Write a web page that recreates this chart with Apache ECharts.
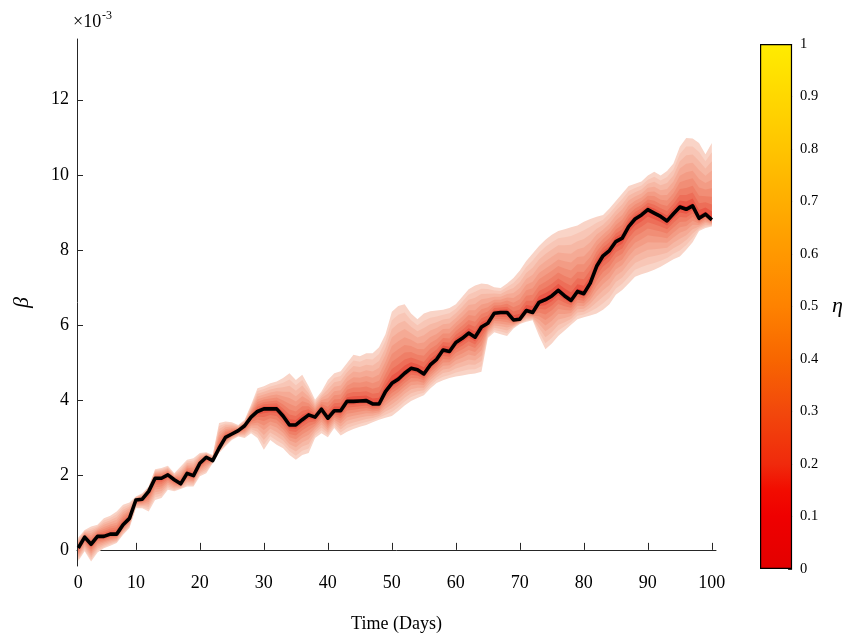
<!DOCTYPE html>
<html>
<head>
<meta charset="utf-8">
<script src="https://cdn.jsdelivr.net/npm/echarts@6/dist/echarts.min.js"></script>
<style>
  html, body { margin: 0; padding: 0; background: #fff; }
  #chart { width: 845px; height: 638px; }
</style>
</head>
<body>
<div id="chart"></div>
<script>
// Day index of each estimate
const days = Array.from({ length: 100 }, (_, i) => i + 1);

// Estimated beta (units of 1e-3)
const beta = [
  0.05, 0.34, 0.15, 0.36, 0.36, 0.42, 0.42, 0.67, 0.84, 1.33,
  1.35, 1.56, 1.91, 1.91, 2.00, 1.87, 1.76, 2.04, 1.98, 2.31,
  2.47, 2.38, 2.71, 3.00, 3.09, 3.18, 3.31, 3.54, 3.69, 3.76,
  3.76, 3.76, 3.57, 3.33, 3.33, 3.47, 3.60, 3.54, 3.75, 3.51,
  3.71, 3.71, 3.96, 3.96, 3.97, 3.98, 3.89, 3.89, 4.22, 4.44,
  4.55, 4.71, 4.84, 4.80, 4.69, 4.93, 5.08, 5.33, 5.29, 5.53,
  5.64, 5.78, 5.67, 5.94, 6.04, 6.31, 6.33, 6.33, 6.13, 6.15,
  6.38, 6.33, 6.60, 6.67, 6.77, 6.92, 6.77, 6.65, 6.89, 6.83,
  7.11, 7.56, 7.84, 7.98, 8.22, 8.31, 8.62, 8.82, 8.93, 9.07,
  8.98, 8.89, 8.77, 8.96, 9.14, 9.08, 9.17, 8.84, 8.95, 8.80
];

// Outer envelope of the fan (units of 1e-3)
const upperBound = [
  0.33, 0.53, 0.62, 0.67, 0.84, 0.91, 1.02, 1.20, 1.26, 1.42,
  1.51, 1.69, 2.15, 2.18, 2.24, 2.04, 2.22, 2.40, 2.44, 2.58,
  2.60, 2.53, 3.38, 3.42, 3.40, 3.33, 3.47, 3.87, 4.31, 4.36,
  4.44, 4.49, 4.58, 4.71, 4.53, 4.67, 4.36, 4.00, 4.22, 4.53,
  4.71, 4.76, 4.98, 5.20, 5.16, 5.24, 5.24, 5.40, 5.75, 6.35,
  6.50, 6.55, 6.30, 6.15, 6.30, 6.36, 6.38, 6.40, 6.45, 6.55,
  6.75, 6.95, 7.05, 7.10, 7.08, 7.00, 6.98, 7.10, 7.25, 7.45,
  7.70, 7.90, 8.10, 8.27, 8.40, 8.50, 8.55, 8.60, 8.65, 8.75,
  8.82, 8.88, 8.93, 9.10, 9.30, 9.50, 9.70, 9.76, 9.82, 9.98,
  10.08, 9.98, 10.10, 10.30, 10.75, 10.98, 10.97, 10.85, 10.55, 10.85
];
const lowerBound = [
  -0.30, -0.04, -0.31, -0.07, 0.04, 0.11, 0.18, 0.40, 0.58, 1.11,
  1.11, 1.02, 1.33, 1.38, 1.60, 1.56, 1.62, 1.69, 1.69, 1.96,
  2.04, 2.31, 2.58, 2.76, 2.93, 3.02, 2.98, 3.11, 2.98, 2.67,
  2.93, 2.80, 2.71, 2.53, 2.40, 2.53, 2.58, 2.98, 3.11, 3.00,
  3.25, 3.05, 3.15, 3.22, 3.28, 3.33, 3.40, 3.47, 3.52, 3.57,
  3.70, 3.85, 3.97, 4.05, 4.12, 4.30, 4.45, 4.52, 4.58, 4.62,
  4.65, 4.68, 4.70, 4.75, 5.65, 5.80, 5.75, 5.70, 5.90, 6.02,
  6.08, 6.12, 5.70, 5.35, 5.50, 5.70, 5.85, 6.00, 6.15, 6.20,
  6.25, 6.30, 6.40, 6.55, 6.80, 6.93, 7.10, 7.28, 7.35, 7.40,
  7.47, 7.55, 7.65, 7.75, 7.82, 8.00, 8.20, 8.50, 8.58, 8.62
];

// Fan layers: share of the envelope each layer covers, outer to inner
const fanLevels = [1.0, 0.88, 0.76, 0.64, 0.52, 0.41, 0.30, 0.20, 0.11, 0.04];
const fanShades = [
  '#F9D4C7', '#F8C6B6', '#F6B8A5', '#F5AA95', '#F39C85',
  '#F18E76', '#EF7F67', '#ED6E58', '#EA5746', '#E52C2C'
];

// Axis ticks
const xTicks = [1, 10, 20, 30, 40, 50, 60, 70, 80, 90, 100];
const xTickLabels = ['0', '10', '20', '30', '40', '50', '60', '70', '80', '90', '100'];
const yTicks = [0, 2, 4, 6, 8, 10, 12];

// Colour scale for eta
const etaStops = [
  [0.0, '#E30000'], [0.1, '#EF0000'], [0.15, '#F20C00'], [0.2, '#F02A0C'],
  [0.3, '#F2480C'], [0.4, '#F86600'], [0.5, '#FE8200'], [0.6, '#FF9800'],
  [0.7, '#FFAE00'], [0.8, '#FFC400'], [0.9, '#FFD800'], [1.0, '#FFEC00']
];

const serif = '"Liberation Serif", "DejaVu Serif", serif';
const axisColor = '#262626';

const chart = echarts.init(document.getElementById('chart'), null, { renderer: 'canvas' });

const betaPoints = days.map((d, i) => [d, beta[i]]);

chart.setOption({
  animation: false,
  backgroundColor: '#fff',
  grid: [
    { left: 77, right: 129, top: 39, bottom: 72, containLabel: false },
    { left: 760, width: 33, top: 44, height: 525 }
  ],
  xAxis: [
    {
      type: 'value', gridIndex: 0, min: 0.8, max: 100.65,
      name: 'Time (Days)', nameLocation: 'middle', nameGap: 49,
      nameTextStyle: { fontFamily: serif, fontSize: 18, color: '#000' },
      axisLine: { show: true, lineStyle: { color: axisColor, width: 1 } },
      axisTick: { show: true, inside: true, length: 7, customValues: xTicks, lineStyle: { color: axisColor } },
      axisLabel: {
        customValues: xTicks, margin: 8,
        fontFamily: serif, fontSize: 18, color: '#000',
        formatter: v => xTickLabels[xTicks.indexOf(v)]
      },
      splitLine: { show: false }
    },
    {
      type: 'category', gridIndex: 1, data: [''],
      show: false
    }
  ],
  yAxis: [
    {
      type: 'value', gridIndex: 0, min: -0.43, max: 13.62,
      name: 'β', nameLocation: 'middle', nameGap: 44,
      nameTextStyle: { fontFamily: serif, fontSize: 22, fontStyle: 'italic', color: '#000' },
      axisLine: { show: true, lineStyle: { color: axisColor, width: 1 } },
      axisTick: { show: true, inside: true, length: 6, customValues: yTicks, lineStyle: { color: axisColor } },
      axisLabel: { customValues: yTicks, margin: 8, fontFamily: serif, fontSize: 18, color: '#000' },
      splitLine: { show: false }
    },
    {
      type: 'value', gridIndex: 1, min: 0, max: 1, interval: 0.1, position: 'right',
      name: 'η', nameLocation: 'middle', nameGap: 40, nameRotate: 0,
      nameTextStyle: { fontFamily: serif, fontSize: 22, fontStyle: 'italic', color: '#000' },
      axisLine: { show: false },
      axisTick: { show: true, inside: true, length: 4, lineStyle: { color: '#333' } },
      axisLabel: { margin: 8, fontFamily: serif, fontSize: 14.5, color: '#000' },
      splitLine: { show: false }
    }
  ],
  graphic: [
    { type: 'text', left: 73, top: 13, style: { text: '×10', font: '18px ' + serif, fill: '#000' } },
    { type: 'text', left: 102, top: 10, style: { text: '-3', font: '12px ' + serif, fill: '#000' } }
  ],
  series: [
    {
      // nested fan layers, outer (light) first
      type: 'custom',
      xAxisIndex: 0, yAxisIndex: 0,
      data: fanLevels.map((f, i) => [1, 0, i]),
      encode: { x: 0, y: 1 },
      silent: true,
      z: 1,
      renderItem: (params, api) => {
        const k = params.dataIndex;
        const f = fanLevels[k];
        const top = days.map((d, i) => api.coord([d, beta[i] + f * (upperBound[i] - beta[i])]));
        const bottom = days.map((d, i) => api.coord([d, beta[i] - f * (beta[i] - lowerBound[i])])).reverse();
        return {
          type: 'polygon',
          shape: { points: top.concat(bottom) },
          style: { fill: fanShades[k], stroke: null }
        };
      }
    },
    {
      type: 'line',
      xAxisIndex: 0, yAxisIndex: 0,
      data: betaPoints,
      showSymbol: false,
      z: 5,
      lineStyle: { color: '#000', width: 3.6, join: 'round' }
    },
    {
      // colour bar for eta
      type: 'bar',
      xAxisIndex: 1, yAxisIndex: 1,
      data: [1],
      barWidth: '100%',
      silent: true,
      itemStyle: {
        color: new echarts.graphic.LinearGradient(0, 1, 0, 0,
          etaStops.map(s => ({ offset: s[0], color: s[1] }))),
        borderColor: '#000',
        borderWidth: 1.2
      }
    }
  ]
});
</script>
</body>
</html>
